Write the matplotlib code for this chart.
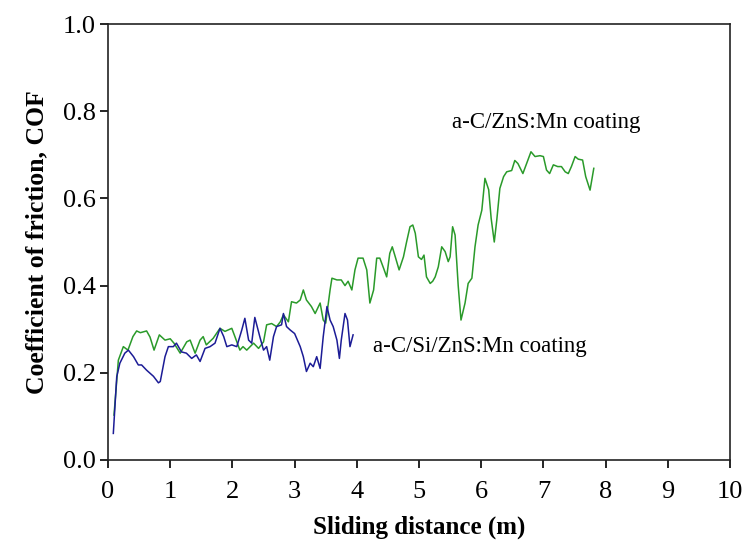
import matplotlib
matplotlib.use("Agg")
import matplotlib.pyplot as plt
import numpy as np

# a-C/ZnS:Mn coating (green)
x_znS = [0.096, 0.166, 0.246, 0.32, 0.40, 0.46, 0.52, 0.62, 0.675, 0.74, 0.825, 0.916,
         1.0, 1.06, 1.16, 1.265, 1.32, 1.40, 1.48, 1.53, 1.58, 1.69, 1.80, 1.88, 1.99,
         2.04, 2.12, 2.17, 2.23, 2.34, 2.42, 2.50, 2.55, 2.63, 2.71, 2.77, 2.82, 2.90,
         2.95, 3.03, 3.09, 3.14, 3.19, 3.27, 3.33, 3.41, 3.46, 3.50, 3.57, 3.60, 3.68,
         3.75, 3.81, 3.86, 3.92, 3.97, 4.02, 4.10, 4.16, 4.21, 4.27, 4.32, 4.37, 4.43,
         4.48, 4.53, 4.57, 4.61, 4.68, 4.75, 4.80, 4.855, 4.90, 4.94, 4.99, 5.04, 5.08,
         5.12, 5.18, 5.22, 5.26, 5.31, 5.365, 5.42, 5.47, 5.50, 5.54, 5.58, 5.63, 5.675,
         5.74, 5.79, 5.85, 5.90, 5.95, 6.01, 6.06, 6.12, 6.16, 6.21, 6.25, 6.30, 6.36,
         6.41, 6.49, 6.54, 6.59, 6.67, 6.73, 6.80, 6.865, 6.945, 7.0, 7.05, 7.1, 7.16,
         7.23, 7.29, 7.35, 7.40, 7.45, 7.51, 7.56, 7.63, 7.68, 7.75, 7.81]
cof_znS = [0.103, 0.229, 0.26, 0.252, 0.283, 0.296, 0.292, 0.296, 0.282, 0.252, 0.287, 0.275,
           0.278, 0.268, 0.245, 0.271, 0.275, 0.245, 0.275, 0.283, 0.264, 0.279, 0.302, 0.295, 0.302,
           0.283, 0.252, 0.26, 0.252, 0.268, 0.256, 0.271, 0.31, 0.313, 0.306, 0.317, 0.333, 0.317,
           0.363, 0.36, 0.367, 0.39, 0.367, 0.352, 0.336, 0.36, 0.321, 0.314, 0.39, 0.417, 0.413,
           0.413, 0.40, 0.41, 0.39, 0.436, 0.463, 0.463, 0.436, 0.36, 0.39, 0.463, 0.463, 0.44,
           0.42, 0.474, 0.489, 0.47, 0.436, 0.466, 0.50, 0.535, 0.539, 0.52, 0.466, 0.46, 0.47,
           0.42, 0.405, 0.41, 0.42, 0.443, 0.489, 0.478, 0.455, 0.466, 0.535, 0.516, 0.40, 0.321,
           0.36, 0.405, 0.417, 0.489, 0.539, 0.573, 0.646, 0.62, 0.554, 0.50, 0.55, 0.623, 0.65,
           0.661, 0.664, 0.687, 0.68, 0.657, 0.68, 0.707, 0.696, 0.698, 0.696, 0.665, 0.657, 0.677,
           0.673, 0.673, 0.661, 0.657, 0.673, 0.696, 0.69, 0.688, 0.65, 0.619, 0.669]

# a-C/Si/ZnS:Mn coating (blue)
x_si = [0.085, 0.14, 0.19, 0.27, 0.327, 0.41, 0.487, 0.54, 0.62, 0.73, 0.81, 0.84, 0.916,
        0.97, 1.05, 1.1, 1.18, 1.26, 1.345, 1.42, 1.48, 1.56, 1.64, 1.72, 1.80, 1.86, 1.91,
        1.99, 2.07, 2.15, 2.20, 2.26, 2.31, 2.36, 2.44, 2.50, 2.55, 2.60, 2.66, 2.71, 2.79,
        2.82, 2.87, 2.93, 3.0, 3.09, 3.14, 3.19, 3.25, 3.30, 3.355, 3.41, 3.46, 3.52, 3.57,
        3.62, 3.68, 3.72, 3.75, 3.81, 3.85, 3.89, 3.94]
cof_si = [0.061, 0.191, 0.222, 0.245, 0.252, 0.237, 0.218, 0.218, 0.206, 0.192, 0.177, 0.18, 0.237,
          0.26, 0.26, 0.268, 0.248, 0.245, 0.233, 0.241, 0.226, 0.256, 0.26, 0.268, 0.302, 0.283, 0.26,
          0.264, 0.26, 0.298, 0.325, 0.275, 0.268, 0.327, 0.283, 0.252, 0.26, 0.229, 0.283, 0.306, 0.31,
          0.336, 0.306, 0.298, 0.29, 0.26, 0.237, 0.203, 0.222, 0.214, 0.237, 0.21, 0.283, 0.352, 0.321,
          0.306, 0.275, 0.233, 0.275, 0.336, 0.321, 0.26, 0.287]

plt.rcParams["font.family"] = ["Liberation Serif", "DejaVu Serif"]

fig = plt.figure(figsize=(7.43, 5.42), dpi=100)
ax = fig.add_axes([0.1454, 0.1513, 0.8371, 0.8044])

ax.plot(x_znS, cof_znS, color="#2a9a2a", lw=1.1)
ax.plot(x_si, cof_si, color="#1c1c96", lw=1.1)

ax.text(5.53, 0.773, "a-C/ZnS:Mn coating", fontsize=16.5, va="center", ha="left")
ax.text(4.26, 0.261, "a-C/Si/ZnS:Mn coating", fontsize=16.5, va="center", ha="left")

ax.set_xlim(0, 10)
ax.set_ylim(0, 1.0)
ax.set_xticks(range(0, 11))
ax.set_yticks(np.arange(0, 1.01, 0.2))
ax.set_yticklabels([f"{v:.1f}" for v in np.arange(0, 1.01, 0.2)])
ax.tick_params(direction="out", length=6, width=1.2, labelsize=19, pad=3)
ax.tick_params(axis="x", pad=9)

for s in ax.spines.values():
    s.set_linewidth(1.2)
    s.set_color("#222222")

ax.set_xlabel("Sliding distance (m)", fontsize=18, fontweight="bold", labelpad=9)
ax.set_ylabel("Coefficient of friction, COF", fontsize=18.5, fontweight="bold", labelpad=10)

fig.savefig("out.png", dpi=100)
